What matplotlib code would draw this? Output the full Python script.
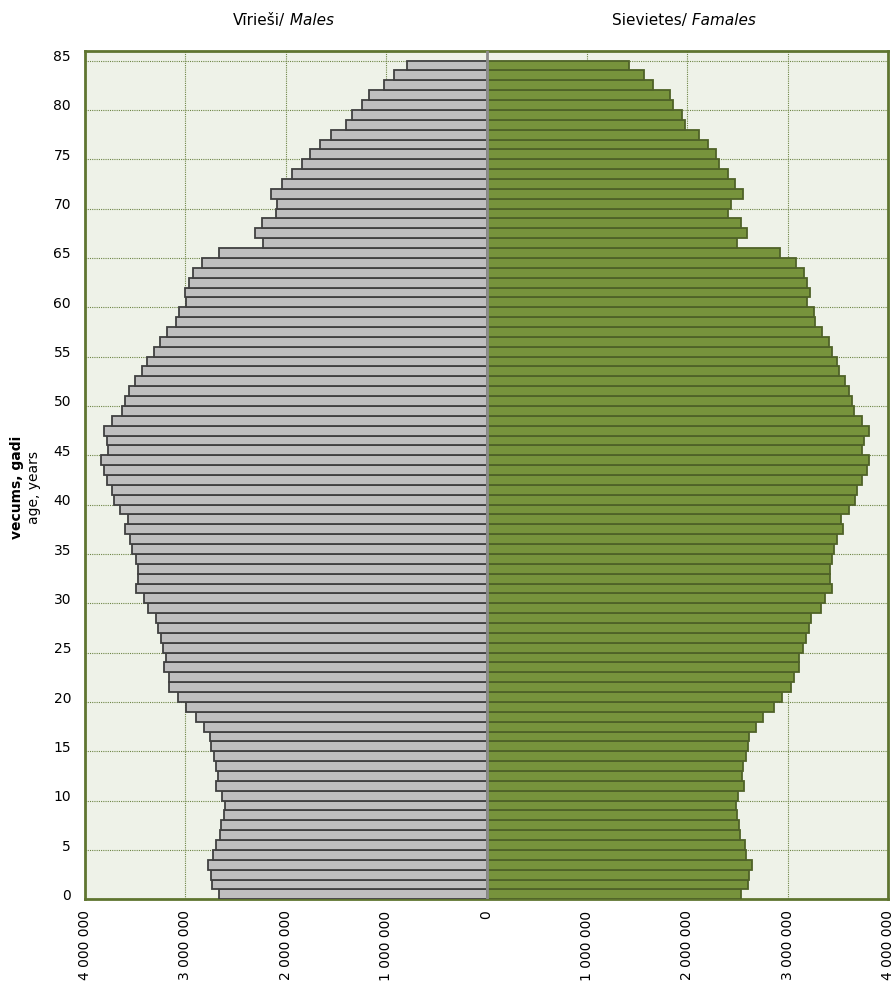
import matplotlib
matplotlib.use("Agg")
import matplotlib.pyplot as plt
import numpy as np

# vecums 0..84
ages = list(range(0, 85))

males = [
    2662000, 2732000, 2749000, 2776000, 2722000, 2699000, 2659000, 2643000, 2616000, 2606000,
    2633000, 2699000, 2676000, 2692000, 2719000, 2742000, 2759000, 2819000, 2895000, 2995000,
    3071000, 3160000, 3160000, 3214000, 3190000, 3220000, 3244000, 3270000, 3290000, 3376000,
    3409000, 3489000, 3473000, 3476000, 3496000, 3529000, 3549000, 3599000, 3572000, 3652000,
    3715000, 3728000, 3778000, 3815000, 3838000, 3768000, 3778000, 3815000, 3735000, 3635000,
    3600000, 3560000, 3506000, 3430000, 3386000, 3317000, 3254000, 3180000, 3098000, 3065000,
    2991000, 3005000, 2961000, 2921000, 2836000, 2662000, 2231000, 2308000, 2234000, 2095000,
    2085000, 2148000, 2035000, 1942000, 1836000, 1756000, 1660000, 1551000, 1401000, 1335000,
    1238000, 1172000, 1026000, 923000, 790000,
]

females = [
    2533000, 2603000, 2616000, 2646000, 2590000, 2573000, 2530000, 2513000, 2497000, 2487000,
    2507000, 2567000, 2550000, 2560000, 2587000, 2610000, 2620000, 2682000, 2759000, 2862000,
    2942000, 3035000, 3061000, 3117000, 3111000, 3154000, 3180000, 3217000, 3237000, 3330000,
    3376000, 3446000, 3426000, 3423000, 3440000, 3466000, 3496000, 3553000, 3529000, 3609000,
    3675000, 3692000, 3745000, 3788000, 3812000, 3745000, 3762000, 3815000, 3745000, 3665000,
    3645000, 3613000, 3573000, 3516000, 3493000, 3446000, 3410000, 3343000, 3270000, 3260000,
    3194000, 3224000, 3197000, 3167000, 3088000, 2928000, 2493000, 2596000, 2536000, 2410000,
    2440000, 2556000, 2480000, 2407000, 2317000, 2284000, 2208000, 2118000, 1975000, 1946000,
    1859000, 1833000, 1663000, 1567000, 1424000,
]

age_ticks = list(range(0, 86, 5))
x_ticks = [-4000000, -3000000, -2000000, -1000000, 0, 1000000, 2000000, 3000000, 4000000]

fig = plt.figure(figsize=(8.96, 9.85), dpi=100)
ax = fig.add_axes([85 / 896, 85.7 / 985, 803 / 896, 848.6 / 985])
ax.set_facecolor("#EEF2E8")

y = np.array(ages) + 0.5
ax.barh(y, -np.array(males), height=1.0, color="#BFBFBF", edgecolor="#404040", linewidth=1.3, zorder=3)
ax.barh(y, females, height=1.0, color="#77933C", edgecolor="#4F6228", linewidth=1.3, zorder=3)

# nulles līnija
ax.axvline(0, color="#8C8C8C", linewidth=2, zorder=4)

ax.set_xlim(-4000000, 4000000)
ax.set_ylim(0, 86)

# režģis pie robežām, etiķetes kategoriju centrā
ax.set_yticks([a for a in age_ticks], minor=True)
ax.set_yticks([a + 0.5 for a in age_ticks])
ax.set_yticklabels([str(a) for a in age_ticks])
ax.grid(which="minor", axis="y", linestyle=(0, (1, 1)), color="#6E8545", linewidth=0.8, zorder=1)

ax.set_xticks(x_ticks)
ax.set_xticklabels([f"{abs(v):,}".replace(",", " ") for v in x_ticks], rotation=90)
ax.grid(which="major", axis="x", linestyle=(0, (1, 1)), color="#6E8545", linewidth=0.8, zorder=1)

ax.tick_params(axis="y", which="both", length=0, pad=10, labelsize=10, colors="#000000")
ax.tick_params(axis="x", length=0, pad=8, labelsize=10)

for s in ax.spines.values():
    s.set_color("#5F7530")
    s.set_linewidth(2)

# virsraksti
t1 = fig.text(233 / 896, 1 - 25 / 985, "Vīrieši/", fontsize=11, ha="left", va="baseline")
fig.text(0, 0, "", fontsize=11)
ax.annotate(" Males", xy=(1, 0), xycoords=t1, fontsize=11, style="italic", ha="left", va="bottom",
            annotation_clip=False)
t2 = fig.text(612 / 896, 1 - 25 / 985, "Sievietes/", fontsize=11, ha="left", va="baseline")
ax.annotate(" Famales", xy=(1, 0), xycoords=t2, fontsize=11, style="italic", ha="left", va="bottom",
            annotation_clip=False)

# ass nosaukums
fig.text(17 / 896, 1 - 487 / 985, "vecums, gadi", rotation=90, fontsize=10, fontweight="bold",
         ha="center", va="center")
fig.text(34 / 896, 1 - 487 / 985, "age, years", rotation=90, fontsize=10, ha="center", va="center")

fig.savefig("out.png", dpi=100)
